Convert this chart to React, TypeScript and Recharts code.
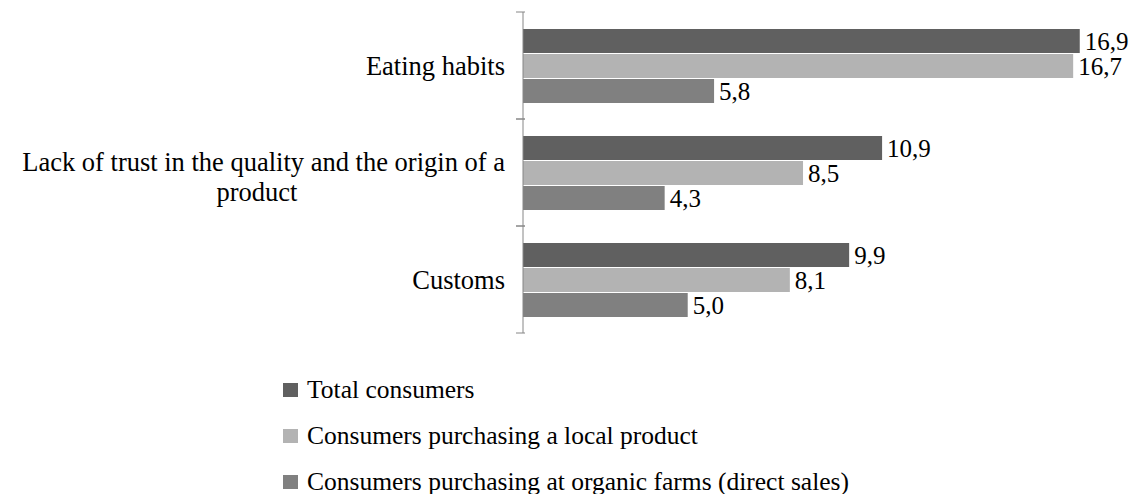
import React from "react"
import { BarChart, Bar, XAxis, YAxis, LabelList } from "recharts"

const categories = [
  "Eating habits",
  "Lack of trust in the quality and the origin of a\nproduct",
  "Customs",
]
const totalConsumers = [16.9, 10.9, 9.9]
const localProduct = [16.7, 8.5, 8.1]
const organicFarms = [5.8, 4.3, 5.0]

const seriesNames = [
  "Total consumers",
  "Consumers purchasing a local product",
  "Consumers purchasing at organic farms (direct sales)",
]
const seriesColors = ["#606060", "#b3b3b3", "#808080"]

const data = categories.map((name, i) => ({
  name,
  total: totalConsumers[i],
  local: localProduct[i],
  organic: organicFarms[i],
}))

const FONT = "'Liberation Serif', 'Times New Roman', serif"

function CategoryTick(props: any) {
  const { x, y, payload } = props
  const lines: string[] = String(payload.value).split("\n")
  const half = payload.offset ?? 53.5
  return (
    <g>
      <line x1={x + 1} x2={x + 10} y1={y - half} y2={y - half} stroke="#868686" />
      <line x1={x + 1} x2={x + 10} y1={y + half} y2={y + half} stroke="#868686" />
      {lines.length === 1 ? (
        <text x={x - 10} y={y + 9} textAnchor="end" fontSize={26.5} fontFamily={FONT} fill="#000">
          {lines[0]}
        </text>
      ) : (
        <g fontSize={26.5} fontFamily={FONT} fill="#000">
          <text x={x - 10} y={y - 2} textAnchor="end">{lines[0]}</text>
          <text x={x - 258} y={y + 28} textAnchor="middle">{lines[1]}</text>
        </g>
      )}
    </g>
  )
}

const fmt = (v: number) => v.toFixed(1).replace(".", ",")

export default function App() {
  return (
    <div style={{ position: "absolute", left: 0, top: 0, width: 1146, height: 494, background: "#fff" }}>
      <BarChart
        width={1146}
        height={494}
        data={data}
        layout="vertical"
        margin={{ top: 12, right: 30, left: 0, bottom: 161 }}
        barCategoryGap="16%"
        barGap={1}
      >
        <XAxis type="number" domain={[0, 18]} hide />
        <YAxis
          type="category"
          dataKey="name"
          width={523}
          axisLine={{ stroke: "#868686" }}
          tickLine={false}
          tick={<CategoryTick />}
          interval={0}
        />
        {(["total", "local", "organic"] as const).map((key, i) => (
          <Bar
            key={key}
            dataKey={key}
            name={seriesNames[i]}
            fill={seriesColors[i]}
            isAnimationActive={false}
          >
            <LabelList
              dataKey={key}
              position="right"
              offset={5}
              formatter={(v: any) => fmt(Number(v))}
              style={{ fontFamily: FONT, fontSize: 25, fill: "#000" }}
            />
          </Bar>
        ))}
      </BarChart>
      <div
        style={{
          position: "absolute",
          left: 283,
          top: 367,
          fontFamily: FONT,
          fontSize: 25.5,
          color: "#000",
        }}
      >
        {seriesNames.map((s, i) => (
          <div key={s} style={{ display: "flex", alignItems: "center", height: 46, whiteSpace: "nowrap" }}>
            <span
              style={{
                display: "inline-block",
                width: 15,
                height: 14,
                background: seriesColors[i],
                marginRight: 9,
              }}
            />
            <span>{s}</span>
          </div>
        ))}
      </div>
    </div>
  )
}
